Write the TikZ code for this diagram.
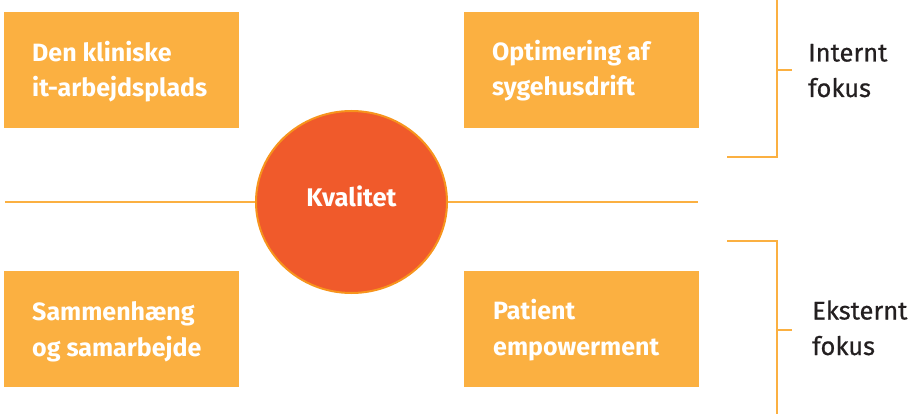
\documentclass[tikz,border=0pt]{standalone}
\usepackage{fontspec}
\setmainfont{Fira Sans}
\newfontfamily\sidefont[FakeBold=0.6]{Fira Sans}
\usetikzlibrary{shapes.geometric}
\definecolor{boxor}{HTML}{FBB041}
\definecolor{circfill}{HTML}{F05A2B}
\definecolor{circline}{HTML}{F7941D}
\definecolor{txtdark}{HTML}{231F20}
\tikzset{
  box/.style={draw=none, fill=boxor, minimum width=235pt, minimum height=116pt, anchor=north west, inner sep=0pt},
  boxtxt/.style={text=white, font=\fontsize{25}{35.5}\selectfont\bfseries, align=left, anchor=base west, inner sep=0pt},
  sidetxt/.style={text=txtdark, font=\fontsize{25.5}{35.5}\selectfont\sidefont, align=left, anchor=base west, inner sep=0pt},
  oline/.style={draw=boxor, line width=2.4pt},
}
\begin{document}
\begin{tikzpicture}[x=1pt,y=-1pt]
\useasboundingbox (0,0) rectangle (910,414);
% boxes
\node[box] (b1) at (4,12) {};
\node[box] (b2) at (464,12) {};
\node[box] (b3) at (4,271) {};
\node[box] (b4) at (464,271) {};
% horizontal line
\coordinate (hl) at (5,202);
\coordinate (hr) at (698,202);
\node[ellipse, fill=circfill, draw=circline, line width=2pt, minimum width=191pt, minimum height=182pt, inner sep=0pt] (q) at (351.5,202) {};
\draw[oline] (hl) -- (q.west);
\draw[oline] (q.east) -- (hr);
\node[text=white, font=\fontsize{25.5}{30}\selectfont\bfseries, anchor=base, inner sep=0pt] (ql) at (351.5,207) {Kvalitet};
% box texts (anchor at baseline of the last line)
\node[boxtxt] (t1) at (32,97) {Den kliniske\\it-arbejdsplads};
\node[boxtxt] (t2) at (492,96) {Optimering af\\sygehusdrift};
\node[boxtxt] (t3) at (32,356) {Sammenhæng\\og samarbejde};
\node[boxtxt] (t4) at (493,355) {Patient\\empowerment};
% brackets
\coordinate (a1) at (727,157);
\coordinate (a2) at (777,157);
\coordinate (a3) at (777,-2);
\coordinate (a4) at (777,70);
\coordinate (a5) at (792,70);
\draw[oline] (a1) -- (a2) -- (a3);
\draw[oline] (a4) -- (a5);
\coordinate (c1) at (727,241);
\coordinate (c2) at (777,241);
\coordinate (c3) at (777,416);
\coordinate (c4) at (777,330);
\coordinate (c5) at (792,330);
\draw[oline] (c1) -- (c2) -- (c3);
\draw[oline] (c4) -- (c5);
\node[sidetxt] (s1) at (808,97) {Internt\\fokus};
\node[sidetxt] (s2) at (812,355) {Eksternt\\fokus};
\end{tikzpicture}
\end{document}
